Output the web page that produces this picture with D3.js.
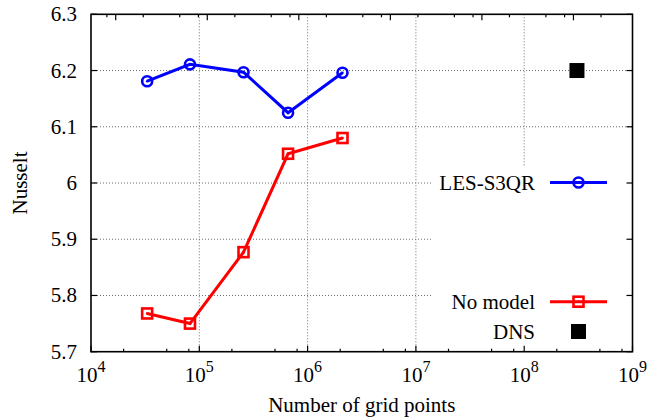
<!DOCTYPE html>
<html>
<head>
<meta charset="utf-8">
<script src="https://cdn.jsdelivr.net/npm/d3@7"></script>
<style>
	body { margin: 0; background: #fff; }
	svg text { font-family: 'Liberation Serif', 'DejaVu Serif', serif; fill: #000; }
</style>
</head>
<body>
<svg id="chart"></svg>
<script>
// values
const gridPoints = [3.3e4, 8.2e4, 2.56e5, 6.6e5, 2.1e6];
const nusseltLes = [6.181, 6.211, 6.197, 6.125, 6.196];
const nusseltNoModel = [5.768, 5.750, 5.877, 6.052, 6.080];
const dnsPoints = [3.07e8];
const nusseltDns = [6.2];

const xDecades = [1e4, 1e5, 1e6, 1e7, 1e8, 1e9];
const xExponents = [4, 5, 6, 7, 8, 9];
const yTicks = [5.7, 5.8, 5.9, 6.0, 6.1, 6.2, 6.3];
const minorMult = [2, 5, 8];
// unlabelled top axis (x2), own log range
const x2Domain = [0.537, 441570];
const x2Decades = [1, 10, 100, 1000, 10000, 100000];

const FONT = "'Liberation Serif', 'DejaVu Serif', serif";
const W = 648, H = 417;
const margin = { top: 14.3, right: 15.5, bottom: 65.3, left: 91 };
const width = W - margin.left - margin.right;
const height = H - margin.top - margin.bottom;

const svg = d3.select("#chart").attr("width", W).attr("height", H)
	.attr("font-family", FONT);
const g = svg.append("g").attr("transform", `translate(${margin.left},${margin.top})`);

const x = d3.scaleLog().domain([1e4, 1e9]).range([0, width]);
const x2 = d3.scaleLog().domain(x2Domain).range([0, width]);
const y = d3.scaleLinear().domain([5.7, 6.3]).range([height, 0]);

// grid
const grid = g.append("g")
	.attr("stroke", "#6e6e6e")
	.attr("stroke-width", 1)
	.attr("stroke-dasharray", "1,2");
grid.selectAll("line.v")
	.data(xDecades.slice(1, -1))
	.join("line")
	.attr("x1", (d) => x(d)).attr("x2", (d) => x(d))
	.attr("y1", 0).attr("y2", height);
grid.selectAll("line.h")
	.data(yTicks.slice(1, -1))
	.join("line")
	.attr("x1", 0).attr("x2", width)
	.attr("y1", (d) => y(d)).attr("y2", (d) => y(d));

// opaque key box
const keyLeft = 342, keyTop = 152.7;
g.append("rect")
	.attr("x", keyLeft).attr("y", keyTop)
	.attr("width", width - keyLeft).attr("height", height - keyTop)
	.attr("fill", "#fff");

// ticks
const ticks = g.append("g").attr("stroke", "#000").attr("stroke-width", 1.2);
const xMinor = [];
xDecades.slice(0, -1).forEach((d) => minorMult.forEach((m) => xMinor.push(d * m)));
ticks.selectAll("line.xmaj")
	.data(xDecades)
	.join("line")
	.attr("x1", (d) => x(d)).attr("x2", (d) => x(d))
	.attr("y1", height).attr("y2", height - 6);
ticks.selectAll("line.xmin")
	.data(xMinor)
	.join("line")
	.attr("x1", (d) => x(d)).attr("x2", (d) => x(d))
	.attr("y1", height).attr("y2", height - 3);

const x2Minor = [0.8];
x2Decades.forEach((d) => minorMult.forEach((m) => x2Minor.push(d * m)));
ticks.selectAll("line.x2maj")
	.data(x2Decades)
	.join("line")
	.attr("x1", (d) => x2(d)).attr("x2", (d) => x2(d))
	.attr("y1", 0).attr("y2", 6);
ticks.selectAll("line.x2min")
	.data(x2Minor.filter((d) => d >= x2Domain[0] && d <= x2Domain[1]))
	.join("line")
	.attr("x1", (d) => x2(d)).attr("x2", (d) => x2(d))
	.attr("y1", 0).attr("y2", 3);

ticks.selectAll("line.yl")
	.data(yTicks)
	.join("line")
	.attr("x1", 0).attr("x2", 6)
	.attr("y1", (d) => y(d)).attr("y2", (d) => y(d));
ticks.selectAll("line.yr")
	.data(yTicks)
	.join("line")
	.attr("x1", width).attr("x2", width - 6)
	.attr("y1", (d) => y(d)).attr("y2", (d) => y(d));

// border
g.append("rect")
	.attr("width", width).attr("height", height)
	.attr("fill", "none").attr("stroke", "#000").attr("stroke-width", 1.6);

// tick labels
g.selectAll("text.ylab")
	.data(yTicks)
	.join("text")
	.attr("x", -14).attr("y", (d) => y(d) + 7)
	.attr("text-anchor", "end")
	.style("font-family", FONT)
	.style("font-size", "21px")
	.text((d) => d3.format(".1f")(d).replace(/\.0$/, ""));

const xl = g.selectAll("text.xlab")
	.data(xDecades)
	.join("text")
	.attr("x", (d) => x(d)).attr("y", height + 30)
	.attr("text-anchor", "middle")
	.style("font-family", FONT)
	.style("font-size", "21px");
xl.append("tspan").text("10");
xl.append("tspan")
	.attr("dy", -10)
	.style("font-size", "16px")
	.text((d, i) => xExponents[i]);

// axis titles
svg.append("text")
	.attr("transform", `translate(27,${margin.top + height / 2}) rotate(-90)`)
	.attr("text-anchor", "middle")
	.style("font-family", FONT)
	.style("font-size", "21px")
	.text("Nusselt");
svg.append("text")
	.attr("x", margin.left + width / 2).attr("y", 411.5)
	.attr("text-anchor", "middle")
	.style("font-family", FONT)
	.style("font-size", "21px")
	.text("Number of grid points");

// series
const les = gridPoints.map((n, i) => [n, nusseltLes[i]]);
const noModel = gridPoints.map((n, i) => [n, nusseltNoModel[i]]);
const line = d3.line().x((d) => x(d[0])).y((d) => y(d[1]));

function circleMark(sel, cx, cy) {
	sel.append("circle").attr("cx", cx).attr("cy", cy).attr("r", 5)
		.attr("fill", "none").attr("stroke", "#0000ff").attr("stroke-width", 2.6);
	sel.append("circle").attr("cx", cx).attr("cy", cy).attr("r", 1.2).attr("fill", "#0000ff");
}
function squareMark(sel, cx, cy) {
	sel.append("rect").attr("x", cx - 5).attr("y", cy - 5).attr("width", 10).attr("height", 10)
		.attr("fill", "none").attr("stroke", "#ff0000").attr("stroke-width", 2.6);
	sel.append("rect").attr("x", cx - 1.2).attr("y", cy - 1.2).attr("width", 2.4).attr("height", 2.4).attr("fill", "#ff0000");
}

g.append("path").datum(noModel)
	.attr("fill", "none").attr("stroke", "#ff0000").attr("stroke-width", 3)
	.attr("d", line);
noModel.forEach((d) => squareMark(g, x(d[0]), y(d[1])));

g.append("path").datum(les)
	.attr("fill", "none").attr("stroke", "#0000ff").attr("stroke-width", 3)
	.attr("d", line);
les.forEach((d) => circleMark(g, x(d[0]), y(d[1])));

g.selectAll("rect.dns")
	.data(dnsPoints)
	.join("rect")
	.attr("x", (d) => x(d) - 7.5).attr("y", (d, i) => y(nusseltDns[i]) - 7.5)
	.attr("width", 15).attr("height", 15)
	.attr("fill", "#000");

// legend
const key = svg.append("g");
const keyText = 535, keyL1 = 550, keyL2 = 607, keyMark = 578.5;

key.append("text").attr("x", keyText).attr("y", 189.5).attr("text-anchor", "end")
	.style("font-family", FONT).style("font-size", "21px").text("LES-S3QR");
key.append("line").attr("x1", keyL1).attr("x2", keyL2).attr("y1", 182.5).attr("y2", 182.5)
	.attr("stroke", "#0000ff").attr("stroke-width", 3);
circleMark(key, keyMark, 182.5);

key.append("text").attr("x", keyText).attr("y", 309).attr("text-anchor", "end")
	.style("font-family", FONT).style("font-size", "21px").text("No model");
key.append("line").attr("x1", keyL1).attr("x2", keyL2).attr("y1", 301.7).attr("y2", 301.7)
	.attr("stroke", "#ff0000").attr("stroke-width", 3);
squareMark(key, keyMark, 301.7);

key.append("text").attr("x", keyText).attr("y", 339).attr("text-anchor", "end")
	.style("font-family", FONT).style("font-size", "21px").text("DNS");
key.append("rect").attr("x", keyMark - 7.5).attr("y", 324).attr("width", 15).attr("height", 15)
	.attr("fill", "#000");
</script>
</body>
</html>
